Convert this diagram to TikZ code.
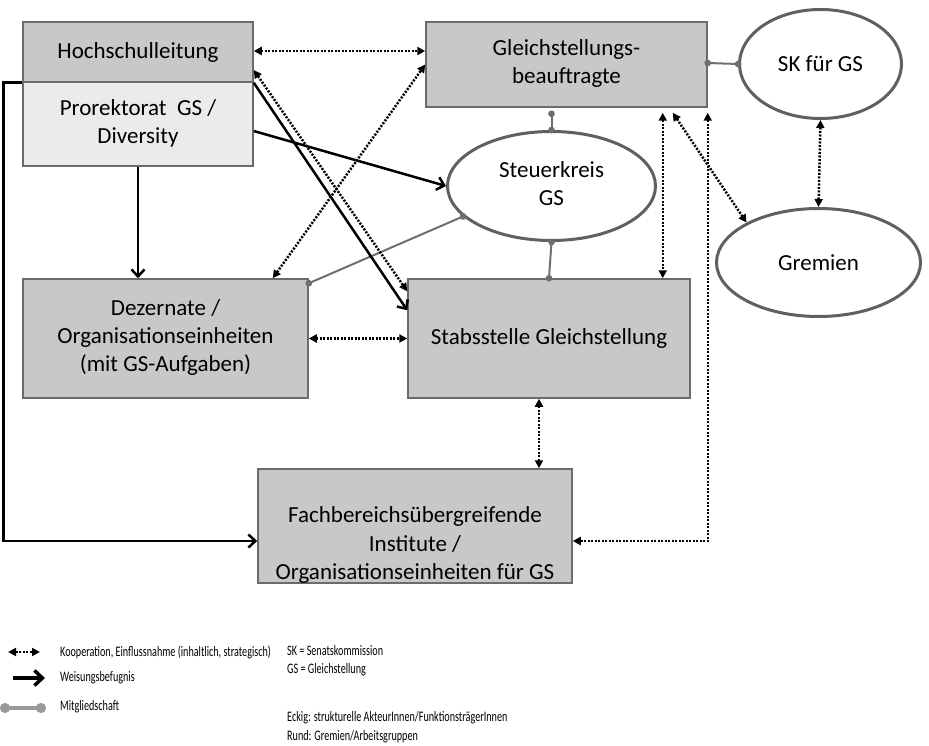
\documentclass[tikz,border=0pt]{standalone}
\usepackage{fontspec}
\setmainfont{Carlito}
\newfontfamily\legfont[FakeStretch=0.7]{Carlito}
\usetikzlibrary{shapes.geometric,arrows.meta}
\definecolor{boxfill}{HTML}{C8C8C8}
\definecolor{lightfill}{HTML}{EBEBEB}
\definecolor{edgegray}{HTML}{6B6B6B}
\definecolor{ovalgray}{HTML}{606060}
\definecolor{memgray}{HTML}{6E6E6E}
\definecolor{leggray}{HTML}{9A9A9A}
\tikzset{
  box/.style={draw=edgegray, line width=1.5pt, fill=boxfill, inner sep=0pt, align=center,
    font=\fontsize{23}{28}\selectfont},
  oval/.style={ellipse, draw=ovalgray, line width=3pt, fill=white, inner sep=0pt, align=center,
    font=\fontsize{23}{28}\selectfont},
  weis/.style={line width=2.5pt, -{Straight Barb[length=7pt,width=13pt,line width=2.5pt]}},
  koop/.style={line width=2.5pt, dash pattern=on 2pt off 1.5pt,
    {Triangle[length=8pt,width=8pt]}-{Triangle[length=8pt,width=8pt]}},
  mem/.style={draw=memgray, line width=2pt, {Circle[length=6.5pt]}-{Circle[length=6.5pt]},
    shorten <=-3.25pt, shorten >=-3.25pt},
  legtext/.style={anchor=west, inner sep=0pt, font=\legfont\fontsize{14.5}{16}\selectfont}
}
\begin{document}
\begin{tikzpicture}[x=1pt,y=-1pt]
\useasboundingbox (0,0) rectangle (929,746);
% boxes
\node[box, minimum width=230pt, minimum height=60pt] (hl) at (138,52) {\raisebox{-1.5pt}{Hochschulleitung}};
\node[box, fill=lightfill, minimum width=230pt, minimum height=84pt] (pro) at (138,124) {Prorektorat\ \ GS /\\Diversity\rule[-5pt]{0pt}{5pt}};
\node[box, minimum width=281pt, minimum height=85pt] (gb) at (566.5,64.5) {Gleichstellungs-\\beauftragte\rule[-5pt]{0pt}{5pt}};
\node[box, minimum width=285pt, minimum height=119pt] (dez) at (165.5,338.5) {Dezernate /\\Organisationseinheiten\\(mit GS-Aufgaben)\rule[-5pt]{0pt}{5pt}};
\node[box, minimum width=282pt, minimum height=119pt] (stab) at (549,338.5) {\raisebox{-1.5pt}{Stabsstelle Gleichstellung}};
\node[box, minimum width=314pt, minimum height=114pt] (fach) at (415,526) {};
\node[align=center, inner sep=0pt, font=\fontsize{23}{28.5}\selectfont] (fachtxt) at (415,545) {Fachbereichsübergreifende\\Institute /\\Organisationseinheiten für GS};
% ovals
\node[oval, minimum width=162pt, minimum height=109pt] (sk) at (820.5,64) {\raisebox{-1.5pt}{SK für GS}};
\node[oval, minimum width=208pt, minimum height=109pt] (stk) at (551.5,186) {Steuerkreis\\GS\rule[-5pt]{0pt}{5pt}};
\node[oval, minimum width=204pt, minimum height=108pt] (grem) at (818.5,262.5) {\raisebox{-1.5pt}{Gremien}};
% helper coordinates
\path (gb.south -| stk.north) ++(0,6) coordinate (gbdot);
\path (gb.south east) ++(-45,5) coordinate (g1);
\path (gb.south east) ++(-35,5) coordinate (g2);
\path (gb.south east) ++(0,5) coordinate (g3);
\path (hl.south west) ++(-19,0) coordinate (hlcorner);
% membership
\draw[mem] (stk.199) -- ([yshift=-5pt]dez.north east);
\draw[mem] (gbdot) -- (stk.north);
\draw[mem] (stk.south) -- (stab.north);
\draw[mem] ([yshift=1.5pt]gb.east) -- (sk.west);
% Weisungsbefugnis
\draw[weis] (hl.south east) -- ([yshift=-32pt]stab.north west);
\draw[weis] ([yshift=-7pt]pro.east) -- (stk.west);
\draw[weis] (pro.south) -- (pro.south |- dez.north);
\draw[weis] (hl.south west) -- (hlcorner) |- ([yshift=-15pt]fach.west);
% Kooperation
\draw[koop] ([yshift=1pt]hl.east) -- ([yshift=1pt]hl.east -| gb.west);
\draw[koop] ([xshift=-36pt]dez.north east) -- (gb.west);
\draw[koop] ([yshift=-18pt]hl.east) -- ([yshift=-13pt]stab.north west);
\draw[koop] (g1) -- (g1 |- stab.north);
\draw[koop] (g2) -- (grem.151);
\draw[koop] (g3) |- ([yshift=-15pt]fach.east);
\draw[koop] (sk.south) -- (grem.north);
\draw[koop] (dez.east) -- (stab.west);
\draw[koop] ([xshift=-10pt]stab.south) -- ([xshift=-10pt]stab.south |- fach.north);
% legend
\coordinate (l1a) at (8,652); \coordinate (l1b) at (40,652);
\coordinate (l2a) at (13,678); \coordinate (l2b) at (45,678);
\coordinate (l3a) at (5,708); \coordinate (l3b) at (41,708);
\draw[koop] (l1a) -- (l1b);
\draw[line width=3.5pt, -{Straight Barb[length=8pt,width=15pt,line width=3.5pt]}] (l2a) -- (l2b);
\draw[draw=leggray, line width=3.5pt, {Circle[length=10pt]}-{Circle[length=10pt]}, shorten <=-5pt, shorten >=-5pt, leggray] (l3a) -- (l3b);
\node[legtext] (t1) at (60,652) {Kooperation, Einflussnahme (inhaltlich, strategisch)};
\node[legtext] (t2) at (60,678) {Weisungsbefugnis};
\node[legtext] (t3) at (60,707) {Mitgliedschaft};
\node[legtext] (t4) at (287,651) {SK = Senatskommission};
\node[legtext] (t5) at (287,670) {GS = Gleichstellung};
\node[legtext] (t6) at (287,718) {Eckig: strukturelle AkteurInnen/FunktionsträgerInnen};
\node[legtext] (t7) at (287,737) {Rund: Gremien/Arbeitsgruppen};
\end{tikzpicture}
\end{document}
